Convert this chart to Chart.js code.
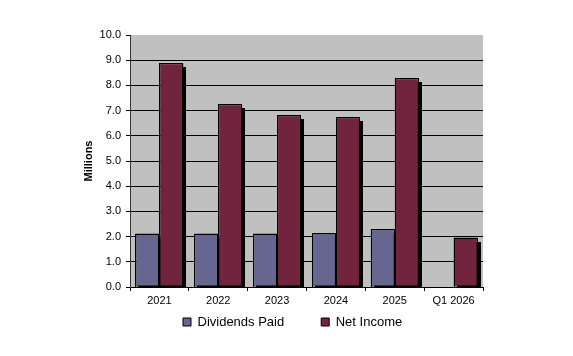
<!DOCTYPE html>
<html>
<head>
<meta charset="utf-8">
<script src="https://cdn.jsdelivr.net/npm/chart.js@4/dist/chart.umd.min.js"></script>
<style>
html,body{margin:0;padding:0;background:#fff;}
#wrap{width:573px;height:356px;position:relative;}
</style>
</head>
<body>
<div id="wrap"><canvas id="c" width="573" height="356"></canvas></div>
<script>
const categories = ["2021", "2022", "2023", "2024", "2025", "Q1 2026"];
const dividendsPaid = [2.12, 2.12, 2.12, 2.14, 2.30, null];
const netIncome = [8.88, 7.25, 6.81, 6.73, 8.28, 1.96];
const yTickMin = 0, yTickMax = 10, yTickStep = 1;
const yAxisTitle = "Millions";
const seriesNames = ["Dividends Paid", "Net Income"];

const plotBg = {
  id: 'plotBg',
  beforeDraw(chart) {
    const {ctx, chartArea: a} = chart;
    ctx.save();
    ctx.fillStyle = '#C0C0C0';
    ctx.fillRect(a.left, a.top, a.right - a.left, a.bottom - a.top);
    ctx.restore();
  }
};
function eachBar(chart, fn) {
  chart.data.datasets.forEach((ds, i) => {
    const meta = chart.getDatasetMeta(i);
    meta.data.forEach((el, j) => {
      if (ds.data[j] == null) return;
      const left = el.x - el.width / 2;
      const right = el.x + el.width / 2;
      const top = Math.min(el.y, el.base);
      const bottom = Math.max(el.y, el.base);
      fn(left, right, top, bottom);
    });
  });
}
// drop shadow behind bars and crisp outlines on top, from the bar elements laid out by Chart.js
const barDecor = {
  id: 'barDecor',
  beforeDatasetsDraw(chart) {
    const {ctx, chartArea: a} = chart;
    ctx.save();
    ctx.beginPath();
    ctx.rect(a.left, a.top, a.right - a.left, a.bottom - a.top);
    ctx.clip();
    ctx.fillStyle = '#000000';
    eachBar(chart, (l, r, t, b) => {
      ctx.fillRect(Math.round(l) + 3, Math.round(t) + 4, Math.round(r) - Math.round(l), Math.round(b) - Math.round(t));
    });
    ctx.restore();
  },
  afterDatasetsDraw(chart) {
    const {ctx, chartArea: a} = chart;
    ctx.save();
    ctx.beginPath();
    ctx.rect(a.left, a.top, a.right - a.left, a.bottom - a.top + 1);
    ctx.clip();
    ctx.strokeStyle = '#000000';
    ctx.lineWidth = 1;
    eachBar(chart, (l, r, t, b) => {
      const L = Math.round(l), R = Math.round(r), T = Math.round(t), B = Math.round(b);
      ctx.strokeRect(L + 0.5, T + 0.5, R - L - 1, B - T);
    });
    ctx.restore();
  }
};
const legendPlace = {
  id: 'legendPlace',
  afterLayout(chart) {
    const lg = chart.legend;
    if (!lg || !lg.lineWidths) return;
    const p = lg.options.labels.padding;
    lg.top = 315.5 - p;
    lg.bottom = 356;
    lg.height = lg.bottom - lg.top;
    const cx = (lg.left + p + lg.right - lg.lineWidths[0]) / 2;
    const dx = 183 - cx;
    lg.left += dx;
    lg.right += dx;
  }
};

Chart.defaults.font.family = '"Liberation Sans", Arial, sans-serif';
Chart.defaults.color = '#000';

new Chart(document.getElementById('c'), {
  type: 'bar',
  data: {
    labels: categories,
    datasets: [
      {
        label: seriesNames[0],
        data: dividendsPaid,
        backgroundColor: '#666690',
        borderColor: '#000000',
        borderWidth: 1,
        borderSkipped: false,
        inflateAmount: 0,
        clip: 0
      },
      {
        label: seriesNames[1],
        data: netIncome,
        backgroundColor: '#72243F',
        borderColor: '#000000',
        borderWidth: 1,
        borderSkipped: false,
        inflateAmount: 0,
        clip: 0
      }
    ]
  },
  options: {
    responsive: false,
    animation: false,
    devicePixelRatio: 1,
    layout: { padding: { left: 82, right: 90, top: 35, bottom: 0 } },
    datasets: { bar: { categoryPercentage: 0.816, barPercentage: 1.0 } },
    scales: {
      x: {
        grid: {
          offset: true,
          drawOnChartArea: false,
          drawTicks: true,
          tickLength: 4,
          tickColor: '#000',
          color: '#000'
        },
        border: { display: true, color: '#000', width: 1 },
        ticks: { font: { size: 11 }, color: '#000', padding: 3, maxRotation: 0 },
        afterFit(scale) { scale.height = 25; }
      },
      y: {
        min: yTickMin,
        max: yTickMax,
        ticks: {
          stepSize: yTickStep,
          font: { size: 11 },
          color: '#000',
          padding: 5,
          callback: (v) => Number(v).toFixed(1)
        },
        grid: {
          color: (ctx) => (ctx.tick && ctx.tick.value === yTickMax) ? 'rgba(0,0,0,0)' : '#000',
          tickColor: '#000',
          tickLength: 4,
          lineWidth: 1
        },
        border: { display: true, color: '#333', width: 1 },
        title: {
          display: true,
          text: yAxisTitle,
          font: { size: 11, weight: 'bold' },
          color: '#000',
          padding: 0
        },
        afterFit(scale) { scale.width = 48; }
      }
    },
    plugins: {
      legend: {
        position: 'bottom',
        maxHeight: 44,
        labels: {
          boxWidth: 8,
          boxHeight: 8,
          padding: 37,
          font: { size: 13 },
          color: '#000'
        }
      },
      tooltip: { enabled: false }
    }
  },
  plugins: [plotBg, barDecor, legendPlace]
});
</script>
</body>
</html>
